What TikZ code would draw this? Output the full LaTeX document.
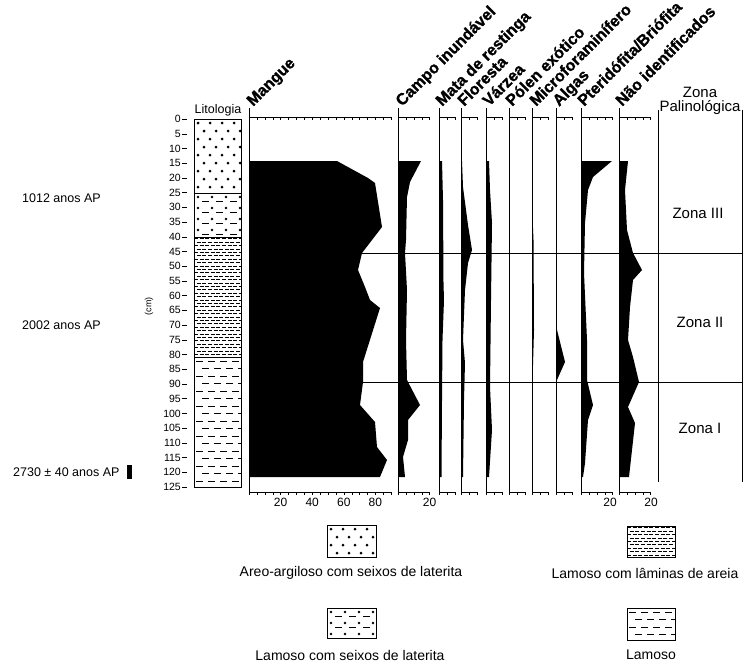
\documentclass[tikz,border=0pt]{standalone}
\usepackage{fontspec}
\setmainfont{Liberation Sans}
\newfontfamily\headfont[FakeBold=1.2]{Liberation Sans Bold}
\usepackage{tikz}

% lithology fills, args: x1 y1 x2 y2
\newcommand{\litdots}[4]{%
  \begin{scope}
    \clip (#1,#2) rectangle (#3,#4);
    \foreach \r in {0,...,12}
      \foreach \c in {0,...,5}
        \fill ({#1+4+\c*12+mod(\r,2)*6},{#2+4+\r*8}) circle (1.5pt);
  \end{scope}}
\newcommand{\litmix}[4]{%
  \begin{scope}
    \clip (#1,#2) rectangle (#3,#4);
    \foreach \r in {0,...,5}
      \foreach \c in {0,...,4}{
        \fill ({#1+4+\c*14},{#2+4+\r*11}) circle (1.4pt);
        \draw[line width=1pt] ({#1+8+\c*14},{#2+8.5+\r*11}) -- ++(7,0);
      }
  \end{scope}}
\newcommand{\litlam}[4]{%
  \begin{scope}
    \clip (#1,#2) rectangle (#3,#4);
    \foreach \r in {0,...,18}{
      \draw[line width=0.8pt, dash pattern=on 4pt off 1.6pt] (#1,{#2+1.7+\r*6.8}) -- (#3,{#2+1.7+\r*6.8});
      \draw[line width=0.8pt, dash pattern=on 4pt off 1.6pt, dash phase=2.8pt] (#1,{#2+5.1+\r*6.8}) -- (#3,{#2+5.1+\r*6.8});
    }
  \end{scope}}
\newcommand{\litmud}[4]{%
  \begin{scope}
    \clip (#1,#2) rectangle (#3,#4);
    \foreach \r in {0,...,18}
      \foreach \c in {0,...,4}
        \draw[line width=1pt] ({#1+2+\c*12+mod(\r,2)*6},{#2+4+\r*7.5}) -- ++(7,0);
  \end{scope}}
% column axis: x, number of 5% steps
\newcommand{\taxscale}[2]{%
  \draw[axisline] (#1,108) -- (#1,495);
  \draw[axisline] (#1,117) -- ++({#2*7.9},0);
  \draw[axisline] (#1,492) -- ++({#2*7.9},0);
  \foreach \k in {1,...,#2}{
    \draw ({#1+\k*7.9},117) -- ++(0,3);
    \draw ({#1+\k*7.9},492) -- ++(0,3);
  }}

\begin{document}
\begin{tikzpicture}[x=1pt,y=-1pt,
  every node/.style={inner sep=0pt},
  taxon/.style={font=\fontsize{16}{16}\selectfont\headfont, rotate=45, anchor=base west},
  depthlbl/.style={font=\fontsize{10.5}{10.5}\selectfont, anchor=east},
  scalelbl/.style={font=\fontsize{12}{12}\selectfont, anchor=north},
  zonelbl/.style={font=\fontsize{15}{15}\selectfont},
  agelbl/.style={font=\fontsize{12.5}{12.5}\selectfont, anchor=west},
  legendlbl/.style={font=\fontsize{14}{14}\selectfont},
  curve/.style={fill=black},
  axisline/.style={line width=0.9pt}]
\useasboundingbox (0,0) rectangle (744,664);

% depth axis
\foreach \d in {0,5,...,125}{
  \node[depthlbl] (d\d) at (181,{119+2.944*\d}) {\d};
  \draw (182,{119+2.944*\d}) -- (187,{119+2.944*\d});
}
\node[font=\fontsize{9}{9}\selectfont, rotate=90] (cm) at (149,306) {(cm)};

% ages
\node[agelbl] (age1) at (22,198) {1012 anos AP};
\node[agelbl] (age2) at (22,325) {2002 anos AP};
\node[agelbl] (age3) at (13,472) {2730 ± 40 anos AP};
\fill (127,465) rectangle (132,479);

% lithology
\node[font=\fontsize{12.5}{12.5}\selectfont, anchor=base] (lito) at (218,113) {Litologia};
\litdots{194}{119}{241}{193}
\litmix{194}{193}{241}{237}
\litlam{194}{237}{241}{357}
\litmud{194}{357}{241}{487}
\draw[axisline] (194,119) rectangle (241,487);
\draw[axisline] (194,193) -- (241,193);
\draw[axisline] (194,237) -- (241,237);
\draw[axisline] (194,357) -- (241,357);

% zone boundaries
\draw[axisline] (249,253) -- (742,253);
\draw[axisline] (249,382) -- (742,382);
\draw[axisline] (658,110) -- (658,482);
\draw[axisline] (742,110) -- (742,482);

% curves
\fill[curve] (249,161) -- (337,161) -- (368,178) -- (375,183) -- (382,227) -- (362,253)
  -- (358,270) -- (365,287) -- (370,300) -- (380,308) -- (363,362) -- (363,382) -- (360,405)
  -- (375,422) -- (377,447) -- (387,460) -- (380,477) -- (249,477) -- cycle;
\fill[curve] (398,161) -- (421,161) -- (410,182) -- (407,197) -- (406,240) -- (405,253)
  -- (407,290) -- (406,340) -- (407,380) -- (420,405) -- (408,420) -- (408,440) -- (403,457)
  -- (405,477) -- (398,477) -- cycle;
\fill[curve] (439,161) -- (442,161) -- (443,200) -- (443.5,283) -- (444,300) -- (442.5,340)
  -- (442,400) -- (441.5,477) -- (439,477) -- cycle;
\fill[curve] (461,161) -- (462,161) -- (463,187) -- (468,225) -- (472,250) -- (468,263)
  -- (465,290) -- (463,340) -- (465,363) -- (464,400) -- (463,477) -- (461,477) -- cycle;
\fill[curve] (486,161) -- (489,161) -- (490,190) -- (492,223) -- (491,300) -- (490,387)
  -- (492,430) -- (489,477) -- (486,477) -- cycle;
\fill[curve] (532,205) -- (533.5,240) -- (534,330) -- (533,365) -- (532,380) -- cycle;
\fill[curve] (556,290) -- (557,330) -- (565,362) -- (557,380) -- (556,383) -- cycle;
\fill[curve] (581,161) -- (612,161) -- (593,177) -- (588,190) -- (585,223) -- (584,273)
  -- (587,340) -- (587,380) -- (593,405) -- (588,420) -- (585,463) -- (583,477) -- (581,477) -- cycle;
\fill[curve] (619,161) -- (628,161) -- (625,190) -- (627,230) -- (633,253) -- (642,270)
  -- (633,280) -- (630,307) -- (628,340) -- (633,357) -- (639,382) -- (628,407) -- (635,423)
  -- (629,477) -- (619,477) -- cycle;

% axes
\taxscale{249}{18}
\taxscale{398}{4}
\taxscale{439}{2}
\taxscale{461}{2}
\taxscale{486}{2}
\taxscale{509}{2}
\taxscale{532}{2}
\taxscale{556}{2}
\taxscale{581}{4}
\taxscale{619}{4}

% scale labels
\foreach \v/\n in {1/20,2/40,3/60,4/80}
  \node[scalelbl] (sm\n) at ({249+\v*31.6},498) {\n};
\node[scalelbl] (sc20) at (429.6,498) {20};
\node[scalelbl] (sp20) at (610,498) {20};
\node[scalelbl] (sn20) at (651,498) {20};

% taxa
\node[taxon] (mangue) at (253,107) {Mangue};
\node[taxon] (campo) at (402,107) {Campo inundável};
\node[taxon] (mata) at (442,107) {Mata de restinga};
\node[taxon] (floresta) at (464,107) {Floresta};
\node[taxon] (varzea) at (489,107) {Várzea};
\node[taxon] (polen) at (512,107) {Pólen exótico};
\node[taxon] (micro) at (536,107) {Microforaminífero};
\node[taxon] (algas) at (559,107) {Algas};
\node[taxon] (pteri) at (584,107) {Pteridófita/Briófita};
\node[taxon] (naoid) at (622,107) {Não identificados};

% zones
\node[zonelbl, anchor=base] (zona) at (700,97) {Zona};
\node[zonelbl, anchor=base] (palino) at (700,111) {Palinológica};
\node[zonelbl] (z3) at (698,213) {Zona III};
\node[zonelbl] (z2) at (700,322) {Zona II};
\node[zonelbl] (z1) at (700,428) {Zona I};

% legend
\litdots{327}{525}{376}{557}
\draw[axisline] (327,525) rectangle (376,557);
\node[legendlbl] (leg1) at (351,573) {Areo-argiloso com seixos de laterita};
\litlam{627}{526}{675}{557}
\draw[axisline] (627,526) rectangle (675,557);
\node[legendlbl] (leg2) at (645,573) {Lamoso com lâminas de areia};
\litmix{327}{608}{376}{638}
\draw[axisline] (327,608) rectangle (376,638);
\node[legendlbl] (leg3) at (350,655) {Lamoso com seixos de laterita};
\litmud{627}{608}{675}{640}
\draw[axisline] (627,608) rectangle (675,640);
\node[legendlbl] (leg4) at (651,655) {Lamoso};
\end{tikzpicture}
\end{document}
